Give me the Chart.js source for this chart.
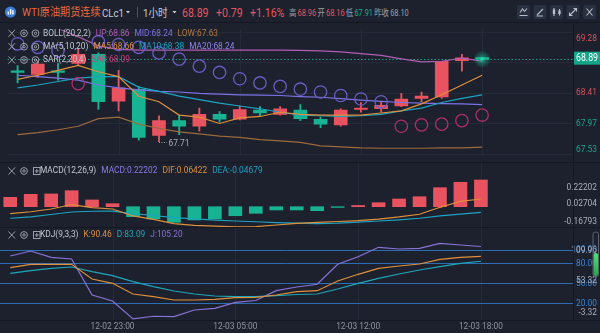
<!DOCTYPE html>
<html>
<head>
<meta charset="utf-8">
<script src="https://cdn.jsdelivr.net/npm/chart.js@4.4.1/dist/chart.umd.min.js"></script>
<style>
  body { margin: 0; background: #1c212d; width: 600px; height: 333px; overflow: hidden; position: relative;
         font-family: Roboto, "Noto Sans CJK SC", sans-serif; }
  canvas { position: absolute; left: 0; }
  .t { position: absolute; top: 12.5px; white-space: nowrap; line-height: 1;
       transform: translateY(-50%) scaleX(0.88); transform-origin: 0 50%; }
  .stats { position: absolute; left: 289px; top: 12.5px; white-space: nowrap; line-height: 1; font-size: 9px;
           transform: translateY(-50%) scaleX(0.82); transform-origin: 0 50%; }
  .stats span { margin-right: 1.5px; }
  .sep { position: absolute; background: #141822; }
</style>
</head>
<body>
<div id="header"></div>
<div class="stats" id="stats"></div>
<svg width="600" height="22" style="position:absolute;left:0;top:0">
  <circle cx="10.5" cy="12" r="5.6" fill="#3b7ddb"/>
  <rect x="7.6" y="11.5" width="1.4" height="3" fill="#fff"/>
  <rect x="9.9" y="9" width="1.4" height="5.5" fill="#fff"/>
  <rect x="12.2" y="10.2" width="1.4" height="4.3" fill="#fff"/>
  <polygon points="126,11 130,11 128,13.5" fill="#c8ccd3"/>
  <rect x="137" y="6.5" width="1" height="11" fill="#4a5162"/>
  <polygon points="172.5,11 176.5,11 174.5,13.5" fill="#c8ccd3"/>
  <g fill="#283041">
    <rect x="517" y="5" width="13" height="14" rx="2"/>
    <rect x="533.5" y="5" width="13" height="14" rx="2"/>
    <rect x="550" y="5" width="13" height="14" rx="2"/>
    <rect x="566.5" y="5" width="13" height="14" rx="2"/>
    <rect x="583" y="5" width="13" height="14" rx="2"/>
  </g>
  <g stroke="#b8bdc7" stroke-width="1.1" fill="none">
    <path d="M519.5 15.5 H527.5 M520 12.5 L522.5 9 L524.5 11.5 L527 8.5"/>
    <path d="M537 15 L543 9 M536.5 16 H543"/>
    <path d="M554 8 V16 M559.5 9 V15.5"/>
    <path d="M569.5 15.5 L576.5 8.5 M573.5 8.5 H576.5 V11.5 M569.5 12.5 V15.5 H572.5"/>
    <path d="M586.5 8.5 L592.5 15.5 M592.5 8.5 L586.5 15.5"/>
  </g>
  <g fill="#b8bdc7">
    <rect x="552.8" y="9.5" width="2.4" height="4.5"/>
    <rect x="558.3" y="10.5" width="2.4" height="3.5"/>
  </g>
</svg>
<canvas id="mainChart" width="600" height="141" style="top:22px"></canvas>
<canvas id="macdChart" width="600" height="65" style="top:163px"></canvas>
<canvas id="kdjChart" width="600" height="105" style="top:228px"></canvas>
<div class="sep" style="left:0;top:22px;width:600px;height:1px"></div>
<div class="sep" style="left:0;top:162px;width:600px;height:1px"></div>
<div class="sep" style="left:0;top:227px;width:600px;height:1px"></div>
<div class="sep" style="left:0;top:320px;width:600px;height:1px"></div>
<div class="sep" style="left:573px;top:22px;width:1px;height:298px"></div>
<script>
// hourly bars, WTI continuous
const times = ['12-02 18:00', '12-02 19:00', '12-02 20:00', '12-02 21:00', '12-02 22:00', '12-02 23:00',
  '12-03 00:00', '12-03 01:00', '12-03 02:00', '12-03 03:00', '12-03 04:00', '12-03 05:00',
  '12-03 07:00', '12-03 08:00', '12-03 09:00', '12-03 10:00', '12-03 11:00', '12-03 12:00',
  '12-03 13:00', '12-03 14:00', '12-03 15:00', '12-03 16:00', '12-03 17:00', '12-03 18:00'];
const timeTicks = [5, 11, 17, 23];
const emptySlots = 4;
const sessionStart = 12;
const prevClose = 68.10;

const open  = [68.72, 68.67, 68.72, 68.83, 68.96, 68.29, 68.46, 67.80, 68.01, 67.93, 68.10, 68.03,
               68.16, 68.10, 68.16, 68.03, 67.95, 68.17, 68.18, 68.22, 68.33, 68.35, 68.87, 68.91];
const high  = [68.80, 68.87, 68.83, 69.03, 68.98, 68.73, 68.50, 68.08, 68.09, 68.19, 68.14, 68.22,
               68.21, 68.21, 68.24, 68.06, 68.18, 68.27, 68.28, 68.40, 68.42, 68.86, 68.96, 68.91];
const low   = [68.55, 68.63, 68.59, 68.80, 68.17, 68.15, 67.73, 67.71, 67.81, 67.86, 67.99, 68.02,
               68.07, 68.09, 68.01, 67.91, 67.93, 68.13, 68.13, 68.21, 68.28, 68.33, 68.72, 68.89];
const close = [68.70, 68.82, 68.70, 68.96, 68.28, 68.48, 67.77, 68.01, 67.93, 68.10, 68.03, 68.17,
               68.12, 68.18, 68.04, 67.96, 68.16, 68.18, 68.23, 68.32, 68.36, 68.86, 68.91, 68.89];

const bollUp  = [69.50, 69.42, 69.33, 69.21, 69.08, 69.03, 69.02, 69.02, 69.02, 69.02, 69.02, 69.02,
                 69.02, 69.02, 69.015, 69.01, 68.995, 68.97, 68.945, 68.895, 68.85, 68.86, 68.905, 68.86];
const bollMid = [68.66, 68.64, 68.62, 68.59, 68.52, 68.48, 68.45, 68.43, 68.42, 68.40, 68.39, 68.38,
                 68.375, 68.37, 68.355, 68.345, 68.325, 68.305, 68.285, 68.27, 68.26, 68.255, 68.25, 68.24];
const bollLow = [67.81, 67.84, 67.88, 67.93, 68.04, 68.06, 67.96, 67.90, 67.85, 67.82, 67.79, 67.77,
                 67.74, 67.72, 67.70, 67.65, 67.635, 67.62, 67.615, 67.615, 67.615, 67.62, 67.62, 67.63];
const ma5  = [68.60, 68.66, 68.73, 68.80, 68.71, 68.64, 68.36, 68.28, 68.09, 68.06, 67.97, 68.05,
              68.07, 68.13, 68.10, 68.09, 68.09, 68.09, 68.12, 68.15, 68.25, 68.38, 68.52, 68.66];
const ma10 = [68.48, 68.52, 68.57, 68.62, 68.64, 68.64, 68.49, 68.43, 68.36, 68.31, 68.26, 68.22,
              68.18, 68.13, 68.09, 68.08, 68.07, 68.08, 68.10, 68.15, 68.19, 68.27, 68.33, 68.38];
const sar  = [69.11, 69.06, 69.01, 68.54, 69.14, 69.10, 69.06, 68.98, 68.89, 68.79, 68.70, 68.61,
              68.55, 68.50, 68.46, 68.42, 68.37, 68.32, 68.28, 67.93, 67.95, 67.96, 68.01, 68.09];

const macdHist = [0.078, 0.103, 0.106, 0.133, 0.056, 0.025, -0.083, -0.102, -0.130, -0.110, -0.102, -0.075,
                  -0.055, -0.027, -0.027, -0.033, -0.006, 0.010, 0.033, 0.064, 0.083, 0.158, 0.203, 0.22202];
const dif = [-0.057, -0.042, -0.019, 0.018, -0.007, -0.019, -0.077, -0.106, -0.140, -0.155, -0.162, -0.16793,
             -0.165, -0.152, -0.138, -0.131, -0.123, -0.115, -0.103, -0.085, -0.063, -0.005, 0.045, 0.06422];
const dea = [-0.096, -0.084, -0.065, -0.044, -0.038, -0.036, -0.057, -0.073, -0.091, -0.102, -0.111, -0.119,
             -0.125, -0.132, -0.137, -0.140, -0.136, -0.128, -0.119, -0.109, -0.096, -0.077, -0.061, -0.04679];

const kLine = [73.4, 78.5, 78.5, 78.5, 56.45, 50, 33.95, 29.9, 24.95, 24.95, 26, 28.4,
               29, 32.45, 37.4, 38.9, 53.45, 63.5, 72.5, 75.95, 78.95, 86, 89, 90.46];
const dLine = [65, 68.9, 72.5, 74.45, 67.4, 61.4, 52.4, 44.9, 38.45, 33.95, 30.95, 29.9,
               29.9, 31.4, 33.2, 33.95, 41.45, 50, 57.5, 63.95, 69.95, 74.9, 80, 83.09];
const jLine = [90.95, 98.45, 89, 86.45, 32.45, 23.45, -3.32, 0.55, 0, 9.95, 12.5, 21.5,
               24.2, 38.9, 44.45, 48.5, 78.5, 89.9, 104, 101.45, 102.5, 109.96, 107.45, 105.2];

const priceTicks = [69.28, 68.85, 68.41, 67.97, 67.53];
const macdTicks = [0.22202, 0.02704, -0.16793];
const kdjLevels = [100, 80, 50, 20];
const kdjTicks = [109.96, 53.32, -3.32];

const FONT = 'Roboto, "Noto Sans CJK SC", sans-serif';
const SX = 0.88;
const GRID = '#252b38';
const RED = '#e8535f';
const GREEN = '#17b393';
const ORANGE = '#df8f3b';
const CYAN = '#1ea3c3';
const PURPLE = '#7c72e6';
const PINK = '#b05fb3';
const BROWN = '#9c6a3d';
const SAR_UP = '#ad2f69';
const SAR_DN = '#6b5cc6';
const TEAL = '#1fa6b8';
const VIOLET = '#8a72d6';
const LEVEL = '#2a6db3';
const AXIS_TXT = '#a9aeb7';
const ROW_TXT = '#c3c7ce';
const DIM = '#9aa0aa';

const slots = times.concat(Array(emptySlots).fill(''));
const last = times.length - 1;
const candleColor = close.map((c, i) => c >= open[i] ? RED : GREEN);

// ---- header line
const dayHigh = Math.max(...high.slice(sessionStart));
const dayLow = Math.min(...low.slice(sessionStart));
const chg = close[last] - prevClose;
const hdr = [
  ['WTI原油期货连续', 22, '#e8693f', 11.5],
  ['CLc1', 102, '#c8ccd3', 11],
  ['1小时', 143, '#c8ccd3', 11],
  [close[last].toFixed(2), 182, RED, 12],
  ['+' + chg.toFixed(2), 216, RED, 12],
  ['+' + (chg / prevClose * 100).toFixed(2) + '%', 250, RED, 12]
];
document.getElementById('header').innerHTML = hdr.map(([s, x, c, f]) =>
  `<span class="t" style="left:${x}px;color:${c};font-size:${f}px">${s}</span>`).join('');
const stats = [
  ['高', DIM], [dayHigh.toFixed(2), RED], ['开', DIM], [open[sessionStart].toFixed(2), RED],
  ['低', DIM], [dayLow.toFixed(2), GREEN], ['昨收', DIM], [prevClose.toFixed(2), DIM]
];
document.getElementById('stats').innerHTML = stats.map(([s, c]) =>
  `<span style="color:${c}">${s}</span>`).join('');

// ---- drawing helpers
function label(ctx, s, x, y, color, opts = {}) {
  ctx.save();
  ctx.font = (opts.size || 9.5) + 'px ' + FONT;
  ctx.fillStyle = color;
  ctx.textAlign = opts.align || 'left';
  ctx.textBaseline = opts.base || 'middle';
  ctx.translate(x, y);
  ctx.scale(SX, 1);
  ctx.fillText(s, 0, 0);
  const w = ctx.measureText(s).width * SX;
  ctx.restore();
  return w;
}

function rowIcons(ctx, y, plusBox) {
  ctx.save();
  ctx.strokeStyle = '#9aa0ab';
  ctx.lineWidth = 1;
  ctx.beginPath();
  ctx.moveTo(8.5, y - 3.5); ctx.lineTo(15, y + 3.5);
  ctx.moveTo(15, y - 3.5); ctx.lineTo(8.5, y + 3.5);
  ctx.stroke();
  ctx.beginPath(); ctx.arc(24, y, 3.4, 0, Math.PI * 2); ctx.stroke();
  ctx.beginPath(); ctx.arc(24, y, 1.2, 0, Math.PI * 2); ctx.stroke();
  if (plusBox) {
    ctx.strokeRect(33.5, y - 3.5, 6.5, 7);
    ctx.beginPath();
    ctx.moveTo(36.75, y - 2); ctx.lineTo(36.75, y + 2);
    ctx.moveTo(34.8, y); ctx.lineTo(38.7, y);
    ctx.stroke();
  } else {
    ctx.beginPath(); ctx.arc(35.5, y, 3.4, 0, Math.PI * 2); ctx.stroke();
    ctx.beginPath(); ctx.arc(35.5, y, 1.2, 0, Math.PI * 2); ctx.stroke();
  }
  ctx.restore();
}

function legendRow(ctx, y, x0, parts, plusBox) {
  rowIcons(ctx, y, plusBox);
  let x = x0;
  parts.forEach(([s, c]) => { x += label(ctx, s, x, y, c) + 5; });
}

function timeGrid(chart) {
  const { ctx, chartArea: a, scales: { x } } = chart;
  ctx.save();
  ctx.strokeStyle = GRID;
  ctx.lineWidth = 1;
  timeTicks.forEach(i => {
    const px = Math.round(x.getPixelForValue(i)) + 0.5;
    ctx.beginPath(); ctx.moveTo(px, a.top); ctx.lineTo(px, a.bottom); ctx.stroke();
  });
  ctx.restore();
}

function hLine(ctx, a, py, color, dash) {
  ctx.save();
  ctx.strokeStyle = color;
  ctx.lineWidth = 1;
  if (dash) ctx.setLineDash(dash);
  ctx.beginPath(); ctx.moveTo(a.left, py); ctx.lineTo(a.right, py); ctx.stroke();
  ctx.restore();
}

function baseOptions(yMin, yMax, padBottom) {
  return {
    responsive: false, animation: false, devicePixelRatio: 1, events: [],
    layout: { padding: { left: 0, right: 27, top: 0, bottom: padBottom || 0 } },
    plugins: { legend: { display: false }, tooltip: { enabled: false } },
    scales: {
      x: { type: 'category', display: false, offset: true },
      y: { type: 'linear', display: false, min: yMin, max: yMax, beginAtZero: false }
    }
  };
}

const lineDs = (data, color, order = 1) => ({
  type: 'line', data, borderColor: color, borderWidth: 1.2, pointRadius: 0, tension: 0, order
});

// ---- price pane
const mainDeco = {
  id: 'mainDeco',
  beforeDatasetsDraw(chart) {
    const { ctx, chartArea: a, scales: { y } } = chart;
    priceTicks.forEach(v => hLine(ctx, a, Math.round(y.getPixelForValue(v)) + 0.5, GRID));
    timeGrid(chart);
    hLine(ctx, a, Math.round(y.getPixelForValue(close[last])) + 0.5, '#1a9e86', [1.5, 2]);
  },
  afterDatasetsDraw(chart) {
    const { ctx, scales: { x, y } } = chart;
    // lowest low marker
    const li = low.indexOf(Math.min(...low));
    const lx = x.getPixelForValue(li), ly = Math.round(y.getPixelForValue(low[li])) + 0.5;
    ctx.save();
    ctx.strokeStyle = '#9aa0aa';
    ctx.setLineDash([1, 1.5]);
    ctx.beginPath(); ctx.moveTo(lx, ly); ctx.lineTo(lx + 8, ly); ctx.stroke();
    ctx.restore();
    label(ctx, low[li].toFixed(2), lx + 9.5, ly + 1, AXIS_TXT);
    // glowing last price
    const gx = x.getPixelForValue(last), gy = y.getPixelForValue(close[last]);
    const g = ctx.createRadialGradient(gx, gy, 0, gx, gy, 9);
    g.addColorStop(0, 'rgba(60,235,190,0.85)');
    g.addColorStop(0.35, 'rgba(30,200,160,0.45)');
    g.addColorStop(1, 'rgba(30,200,160,0)');
    ctx.save();
    ctx.fillStyle = g;
    ctx.beginPath(); ctx.arc(gx, gy, 9, 0, Math.PI * 2); ctx.fill();
    ctx.restore();
  },
  afterDraw(chart) {
    const { ctx, scales: { y } } = chart;
    priceTicks.forEach((v, k) => {
      const py = y.getPixelForValue(v);
      const base = k === 0 ? 'top' : k === priceTicks.length - 1 ? 'bottom' : 'middle';
      label(ctx, v.toFixed(2), 597, py + (k === 0 ? 2 : 0), v >= prevClose ? '#d9515c' : '#17a888',
        { align: 'right', base });
    });
    const py = y.getPixelForValue(close[last]);
    ctx.fillStyle = '#14a488';
    ctx.fillRect(574, py - 7.5, 26, 13);
    label(ctx, close[last].toFixed(2), 587, py - 1, '#ffffff', { align: 'center', size: 10 });
    const f = v => v.toFixed(2);
    legendRow(ctx, 11.3, 43, [['BOLL(20,2,2)', ROW_TXT], ['UP:' + f(bollUp[last]), PINK],
      ['MID:' + f(bollMid[last]), PURPLE], ['LOW:' + f(bollLow[last]), '#b07a45']]);
    legendRow(ctx, 24.7, 43, [['MA(5,10,20)', ROW_TXT], ['MA5:' + f(ma5[last]), ORANGE],
      ['MA10:' + f(ma10[last]), CYAN], ['MA20:' + f(bollMid[last]), '#8d84ea']]);
    legendRow(ctx, 38, 43, [['SAR(2,20,4)', ROW_TXT], ['SAR:' + f(sar[last]), '#cc3f7c']]);
  }
};

new Chart(document.getElementById('mainChart'), {
  type: 'bar',
  data: {
    labels: slots,
    datasets: [
      { type: 'line', data: sar, showLine: false, pointRadius: 6.2, pointBorderWidth: 1.3,
        pointBackgroundColor: 'rgba(0,0,0,0)',
        pointBorderColor: sar.map((s, i) => s < low[i] ? SAR_UP : SAR_DN), order: 0 },
      lineDs(ma5, ORANGE),
      lineDs(ma10, CYAN),
      lineDs(bollMid, PURPLE),
      lineDs(bollUp, PINK),
      lineDs(bollLow, BROWN),
      { type: 'bar', data: open.map((o, i) => [o, close[i]]), backgroundColor: candleColor,
        barThickness: 13, minBarLength: 1.5, grouped: false, order: 2 },
      { type: 'bar', data: low.map((l, i) => [l, high[i]]), backgroundColor: candleColor,
        barThickness: 1.2, grouped: false, order: 3 }
    ]
  },
  options: baseOptions(67.5115, 69.3145),
  plugins: [mainDeco]
});

// ---- MACD pane
const macdDeco = {
  id: 'macdDeco',
  beforeDatasetsDraw(chart) { timeGrid(chart); },
  afterDraw(chart) {
    const { ctx, scales: { y } } = chart;
    const bases = ['top', 'middle', 'bottom'];
    macdTicks.forEach((v, k) => {
      const py = y.getPixelForValue(v) + (k === 0 ? 2.5 : k === 2 ? -1 : 0);
      label(ctx, v.toFixed(5), 597, py, AXIS_TXT, { align: 'right', base: bases[k] });
    });
    const f = v => v.toFixed(5);
    legendRow(ctx, 8, 40, [['MACD(12,26,9)', ROW_TXT], ['MACD:' + f(macdHist[last]), '#8c7ae6'],
      ['DIF:' + f(dif[last]), ORANGE], ['DEA:' + f(dea[last]), CYAN]], true);
  }
};

new Chart(document.getElementById('macdChart'), {
  type: 'bar',
  data: {
    labels: slots,
    datasets: [
      lineDs(dif, ORANGE),
      lineDs(dea, CYAN),
      { type: 'bar', data: macdHist, backgroundColor: macdHist.map(v => v >= 0 ? RED : GREEN),
        barThickness: 13, grouped: false, order: 2 }
    ]
  },
  options: baseOptions(-0.17706, 0.36326),
  plugins: [macdDeco]
});

// ---- KDJ pane
const kdjDeco = {
  id: 'kdjDeco',
  beforeDatasetsDraw(chart) {
    const { ctx, chartArea: a, scales: { y } } = chart;
    timeGrid(chart);
    kdjLevels.forEach(v => hLine(ctx, a, Math.round(y.getPixelForValue(v)) + 0.5, LEVEL));
  },
  afterDraw(chart) {
    const { ctx, chartArea: a, scales: { x, y } } = chart;
    kdjLevels.forEach(v => label(ctx, v.toFixed(2), 597, y.getPixelForValue(v), '#3b86d2', { align: 'right' }));
    const bases = ['top', 'middle', 'bottom'];
    kdjTicks.forEach((v, k) => {
      const py = y.getPixelForValue(v) + (k === 0 ? 2.5 : k === 2 ? -1 : 0);
      label(ctx, v.toFixed(2), 597, py, AXIS_TXT, { align: 'right', base: bases[k] });
    });
    timeTicks.forEach(i => label(ctx, times[i], x.getPixelForValue(i), a.bottom + 7, '#8e939c',
      { align: 'center', size: 9.5 }));
    // side gauge
    ctx.save();
    const gr = ctx.createLinearGradient(0, 25, 0, 48);
    gr.addColorStop(0, '#4fe36f');
    gr.addColorStop(1, '#22a94c');
    ctx.fillStyle = gr;
    ctx.beginPath(); ctx.roundRect(593.5, 25, 4.5, 23, 2); ctx.fill();
    ctx.strokeStyle = '#5c6372';
    ctx.lineWidth = 1;
    ctx.beginPath(); ctx.roundRect(593, 4, 5.5, 44.5, 2.5); ctx.stroke();
    ctx.restore();
    const f = v => v.toFixed(2);
    legendRow(ctx, 7, 40, [['KDJ(9,3,3)', ROW_TXT], ['K:' + f(kLine[last]), ORANGE],
      ['D:' + f(dLine[last]), TEAL], ['J:' + f(jLine[last]), VIOLET]], true);
  }
};

new Chart(document.getElementById('kdjChart'), {
  type: 'line',
  data: {
    labels: slots,
    datasets: [lineDs(kLine, ORANGE), lineDs(dLine, TEAL), lineDs(jLine, VIOLET)]
  },
  options: (() => {
    const o = baseOptions(-5.05, 132.95, 13);
    o.scales.x.offset = true;
    return o;
  })(),
  plugins: [kdjDeco]
});
</script>
</body>
</html>
